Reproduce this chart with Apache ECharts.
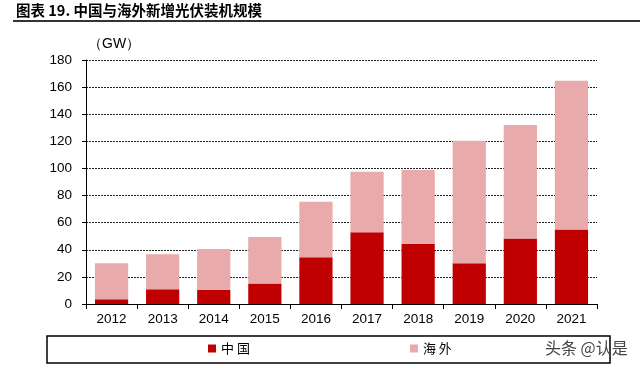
<!DOCTYPE html>
<html>
<head>
<meta charset="utf-8">
<script src="https://cdn.jsdelivr.net/npm/echarts@6/dist/echarts.min.js"></script>
<style>
html,body{margin:0;padding:0;background:#fff;}
#c{width:640px;height:368px;}
</style>
</head>
<body>
<div id="c"></div>
<script>
const categories = ['2012','2013','2014','2015','2016','2017','2018','2019','2020','2021'];
const chinaValues = [3.5, 10.8, 10.6, 15.2, 34.4, 53.0, 44.4, 30.0, 48.3, 54.9];
const overseasValues = [26.5, 25.9, 30.0, 34.2, 41.1, 44.6, 54.4, 90.5, 83.7, 109.8];
const yTicks = {min: 0, max: 180, interval: 20};
const titleText = '图表 19. 中国与海外新增光伏装机规模';
const unitText = '（GW）';
const watermark = '头条 @认是';

const chart = echarts.init(document.getElementById('c'), null, {renderer: 'canvas'});
const latin = 'Liberation Sans, Arial, sans-serif';
const cjk = '"Noto Sans CJK SC", sans-serif';
chart.setOption({
  animation: false,
  backgroundColor: '#fff',
  grid: {left: 86, right: 43, top: 60, bottom: 64, containLabel: false},
  legend: {
    left: 208, top: 342, padding: 0,
    itemWidth: 8, itemHeight: 8, itemGap: 160,
    icon: 'rect',
    formatter: n => n.split('').join(' '),
    textStyle: {fontFamily: cjk, fontSize: 13, color: '#000'},
    data: ['中国', '海外']
  },
  xAxis: {
    type: 'category',
    data: categories,
    axisLine: {lineStyle: {color: '#000', width: 1}},
    axisTick: {show: true, length: 5, lineStyle: {color: '#000'}},
    axisLabel: {fontFamily: latin, fontSize: 13.5, color: '#000', margin: 8}
  },
  yAxis: {
    type: 'value',
    min: yTicks.min, max: yTicks.max, interval: yTicks.interval,
    axisLine: {show: true, lineStyle: {color: '#000', width: 1}},
    axisTick: {show: true, length: 4, lineStyle: {color: '#000'}},
    axisLabel: {fontFamily: latin, fontSize: 13.5, color: '#000', margin: 14},
    splitLine: {show: true, lineStyle: {color: '#222', width: 1, type: [2, 1]}}
  },
  series: [
    {name: '中国', type: 'bar', stack: 'a', data: chinaValues, barWidth: '65%',
     itemStyle: {color: '#C00000'}},
    {name: '海外', type: 'bar', stack: 'a', data: overseasValues, barWidth: '65%',
     itemStyle: {color: '#E8AAAA'}}
  ],
  graphic: [
    {type: 'text', left: 16, top: 3, style: {text: titleText, font: 'bold 14.5px ' + cjk, fill: '#000'}},
    {type: 'line', shape: {x1: 13, y1: 21, x2: 640, y2: 21}, style: {stroke: '#333', lineWidth: 2}},
    {type: 'text', left: 88, top: 37, style: {text: unitText, font: '14px ' + latin, fill: '#000'}},
    {type: 'rect', shape: {x: 47, y: 336, width: 563, height: 27}, style: {fill: 'none', stroke: '#000', lineWidth: 1.5}},
    {type: 'text', left: 545, top: 340, style: {text: watermark, font: '16px ' + cjk, fill: '#444'}}
  ]
});
</script>
</body>
</html>
